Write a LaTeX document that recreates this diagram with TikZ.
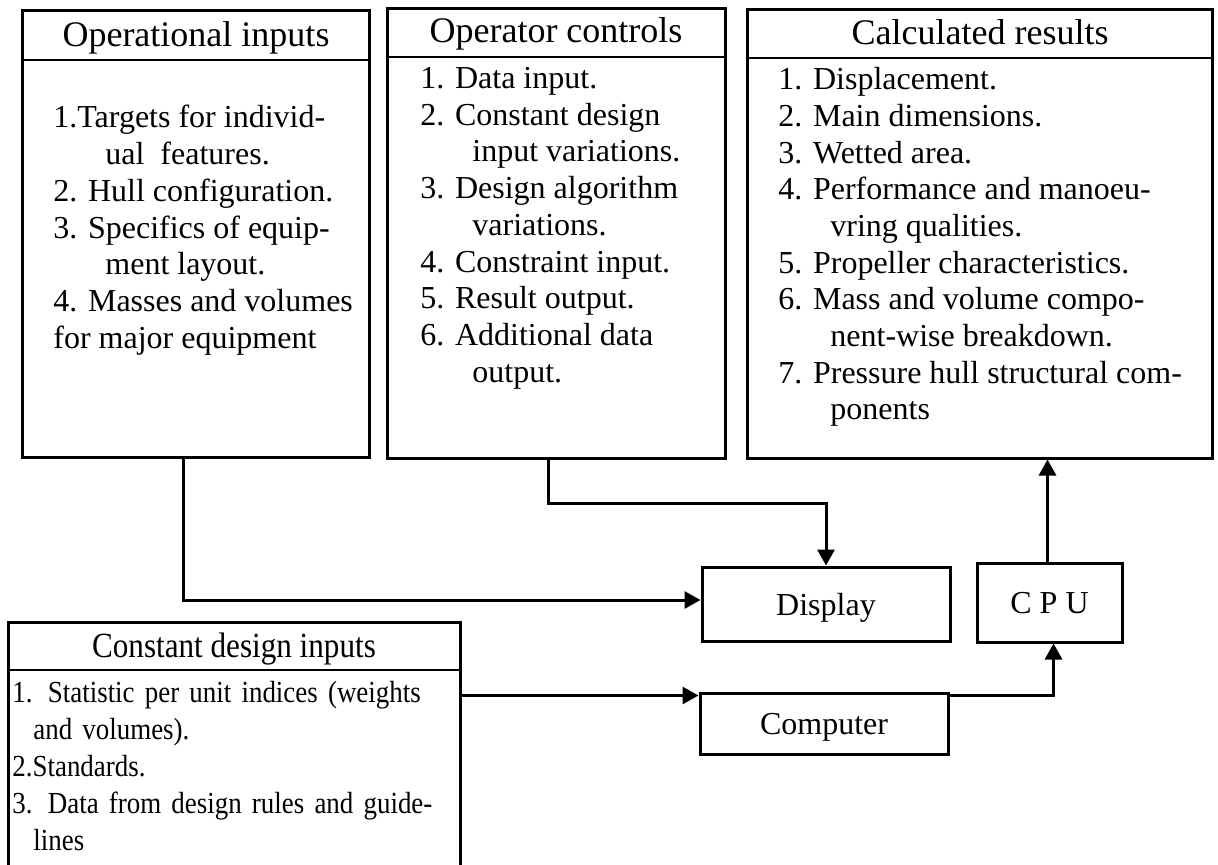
\documentclass[tikz,border=0pt]{standalone}
\usepackage{fontspec}
\setmainfont{Liberation Serif}
\newfontfamily\condfont[FakeStretch=0.88]{Liberation Serif}
\usetikzlibrary{arrows.meta}

\begin{document}
\begin{tikzpicture}
	[
	x=0.5pt, y=-0.5pt,
	box/.style={draw, line width=1.5pt, inner sep=0pt, text depth=0pt, font=\fontsize{16}{18}\selectfont},
	head/.style={anchor=base, inner sep=0pt, font=\fontsize{18}{20}\selectfont},
	list/.style={anchor=north west, inner sep=0pt, align=left, font=\fontsize{16}{18.35}\selectfont},
	rule/.style={line width=1pt},
	arr/.style={line width=1.5pt, -{Triangle[length=8pt,width=8.5pt]}},
	]
		\useasboundingbox (0,0) rectangle (1218,865);
		
		% operational inputs
		\node[box, minimum width=173.5pt, minimum height=223pt] (ops) at 	( 195.5, 234.0 ) {};
		\node[head] (opst) at 		( 196.0,  47.0 ) {Operational inputs};
		\draw[rule] (ops.west |- 0,60) -- (ops.east |- 0,60);
		\node[list] (opsl) at 		(  53.0, 105.0 ) {1.Targets for individ-\\
			\hspace*{26pt}ual~~features.\\
			2. Hull configuration.\\
			3. Specifics of equip-\\
			\hspace*{26pt}ment layout.\\
			4. Masses and volumes\\
			for major equipment};
		
		% operator controls
		\node[box, minimum width=169pt, minimum height=224.5pt] (ctl) at 	( 556.0, 233.5 ) {};
		\node[head] (ctlt) at 		( 556.0,  43.0 ) {Operator controls};
		\draw[rule] (ctl.west |- 0,57) -- (ctl.east |- 0,57);
		\node[list] (ctll) at 		( 420.0,  67.0 ) {1. Data input.\\
			2. Constant design\\
			\hspace*{26pt}input variations.\\
			3. Design algorithm\\
			\hspace*{26pt}variations.\\
			4. Constraint input.\\
			5. Result output.\\
			6. Additional data\\
			\hspace*{26pt}output.};
		
		% calculated results
		\node[box, minimum width=232.5pt, minimum height=224pt] (res) at 	( 979.5, 234.0 ) {};
		\node[head] (rest) at 		( 980.0,  45.0 ) {Calculated results};
		\draw[rule] (res.west |- 0,58) -- (res.east |- 0,58);
		\node[list] (resl) at 		( 778.0,  67.0 ) {1. Displacement.\\
			2. Main dimensions.\\
			3. Wetted area.\\
			4. Performance and manoeu-\\
			\hspace*{26pt}vring qualities.\\
			5. Propeller characteristics.\\
			6. Mass and volume compo-\\
			\hspace*{26pt}nent-wise breakdown.\\
			7. Pressure hull structural com-\\
			\hspace*{26pt}ponents};
		
		% constant design inputs
		\node[box, minimum width=226pt, minimum height=126pt] (cons) at 	( 234.0, 748.0 ) {};
		\node[head, font=\condfont\fontsize{17.7}{20}\selectfont] (const) at 	( 234.0, 657.0 ) {Constant design inputs};
		\draw[rule] (cons.west |- 0,670) -- (cons.east |- 0,670);
		\node[list, text width=221.5pt, font=\condfont\fontsize{15.3}{18.5}\selectfont] (consl) at 	(  12.0, 681.0 ) {\makebox[221.5pt][s]{1. Statistic per unit indices (weights}\\
			\hspace*{10.5pt}and volumes).\\
			2.Standards.\\
			\makebox[221.5pt][s]{3. Data from design rules and guide-}\\
			\hspace*{10.5pt}lines};
		
		% processing
		\node[box, minimum width=124pt, minimum height=37pt] (disp) at 		( 826.0, 604.0 ) {Display};
		\node[box, minimum width=72.5pt, minimum height=39.5pt] (cpu) at 	(1049.5, 602.5 ) {C P U};
		\node[box, minimum width=124pt, minimum height=30.5pt] (comp) at 	( 824.0, 723.5 ) {Computer};
		
		\coordinate (ctlj) at 		( 826.0, 503.0 );
		\coordinate (compin) at 	([yshift=-2pt]comp.north west);
		
		\draw[arr] ([xshift=-6pt]ops.south) |- ([yshift=2pt]disp.west);
		\draw[arr] ([xshift=-4pt]ctl.south) |- (ctlj) -- (disp.north);
		\draw[arr] (compin -| cons.east) -- (compin);
		\draw[arr] (compin -| comp.east) -| ([xshift=2pt]cpu.south);
		\draw[arr] ([xshift=-1pt]cpu.north) -- ([xshift=-1pt]cpu.north |- res.south);
		
	\end{tikzpicture}
\end{document}
